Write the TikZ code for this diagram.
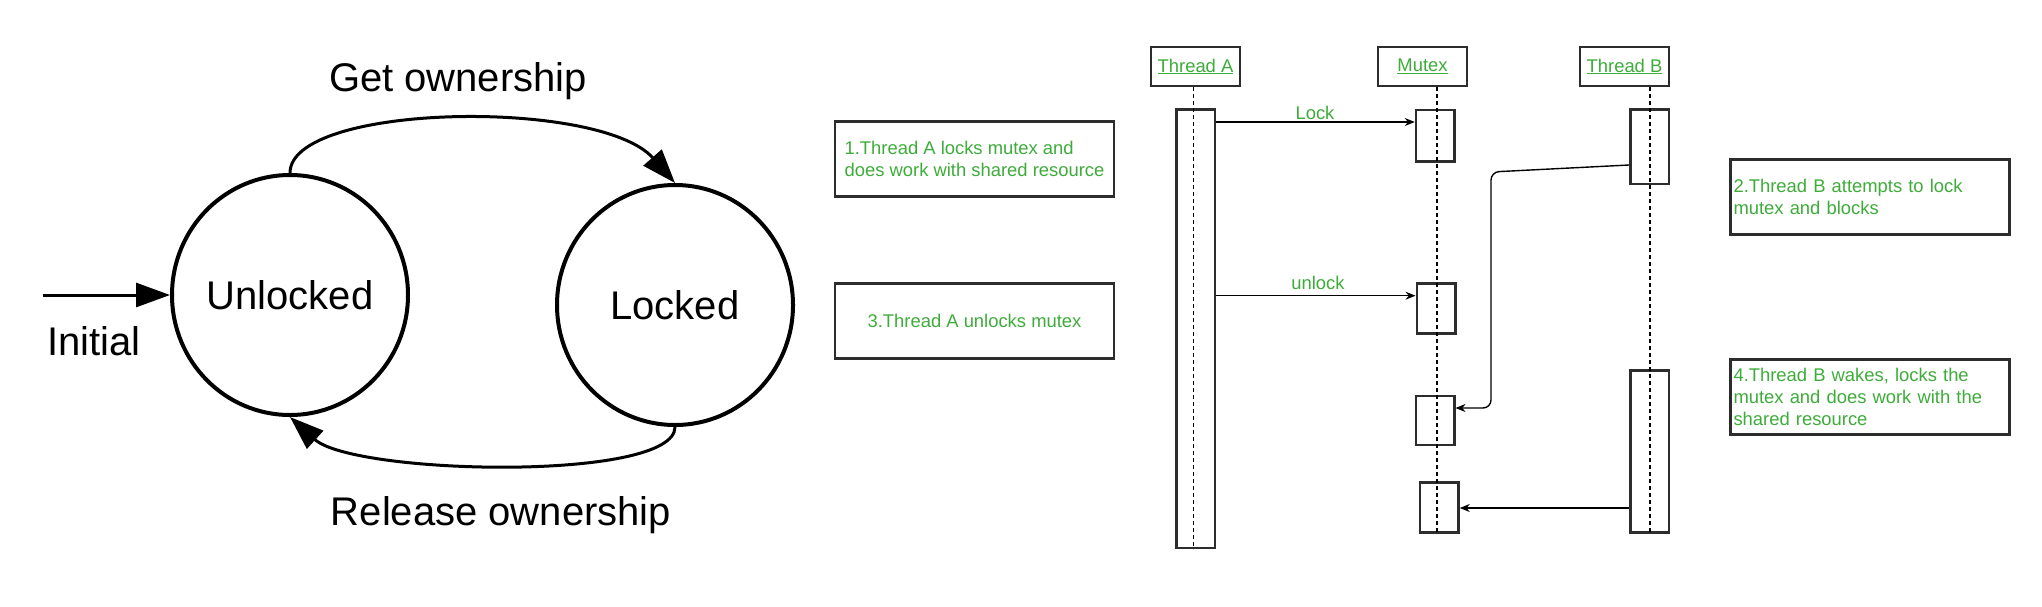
\documentclass[tikz,border=0pt]{standalone}
\usepackage{fontspec}
\setmainfont{Liberation Sans}
\usetikzlibrary{arrows.meta,shapes.geometric}
\definecolor{tgreen}{RGB}{62,172,58}
\definecolor{bord}{RGB}{45,45,45}
\begin{document}
\begin{tikzpicture}[x=1pt,y=-1pt,
  state/.style={draw,ellipse,line width=4pt,inner sep=0pt,font=\fontsize{40}{44}\selectfont},
  big/.style={font=\fontsize{40}{44}\selectfont,inner sep=0pt},
  tarr/.style={line width=3pt,-{Triangle[length=34pt,width=24pt]}},
  hdr/.style={draw=bord,line width=2.5pt,minimum width=89pt,minimum height=39pt,inner sep=0pt,text=tgreen,font=\fontsize{18.4}{22}\selectfont},
  act/.style={draw=bord,line width=2.5pt,minimum width=38.5pt,inner sep=0pt},
  note/.style={draw=bord,line width=2.5pt,minimum width=279pt,minimum height=75pt,text=tgreen,font=\fontsize{18.4}{21.8}\selectfont},
  life/.style={line width=1.2pt,dash pattern=on 4pt off 3pt},
  msg/.style={line width=1.4pt,-{Stealth[length=10pt,width=8pt]}},
  lbl/.style={text=tgreen,font=\fontsize{18.4}{22}\selectfont,inner sep=0pt}
]
\fill[white] (0,0) rectangle (2042,606);
\useasboundingbox (0,0) rectangle (2042,606);

% ---------- state diagram ----------
\node[state,minimum width=236pt,minimum height=240pt] (unl) at (290,295) {Unlocked};
\node[state,minimum width=236pt,minimum height=240pt] (lck) at (675,305) {Locked};
\coordinate (ini) at (43,295);
\draw[tarr] (ini) -- (unl.west);
\node[big] (initl) at (94,341) {Initial};
\node[big] (getl) at (458,81) {Get ownership};
\node[big] (rell) at (501,515) {Release ownership};
\draw[tarr] (unl.north) .. controls +(0,-70) and +(-75,-85) .. (lck.north);
\draw[tarr] (lck.south) .. controls +(0,55) and +(64,58) .. (unl.south);

% ---------- sequence diagram ----------
\node[hdr] (ta) at (1195.5,66.5) {\underline{Thread A}};
\node[hdr] (mx) at (1422.5,66.5) {\underline{Mutex}};
\node[hdr] (tb) at (1624.5,66.5) {\underline{Thread B}};

\node[act,minimum height=438.5pt] (aa) at (1195.5,328.75) {};
\node[act,minimum height=51.7pt] (m1) at (1435.25,135.85) {};
\node[act,minimum height=50pt] (m2) at (1436,308.3) {};
\node[act,minimum height=49pt] (m3) at (1435,420.5) {};
\node[act,minimum height=50pt] (m4) at (1439.25,507.3) {};
\node[act,minimum height=74.7pt] (b1) at (1649.5,146.65) {};
\node[act,minimum height=161.6pt] (b2) at (1649.5,451.5) {};

\draw[life] ([xshift=-2pt]ta.south) -- ([xshift=-2pt]ta.south |- aa.south);
\draw[life] ([xshift=14.5pt]mx.south) -- ([xshift=14.5pt]mx.south |- m4.south);
\draw[life] ([xshift=25.5pt]tb.south) -- ([xshift=25.5pt]tb.south |- b2.south);

\draw[msg] (aa.east |- 0,122) -- (m1.west |- 0,122);
\node[lbl] (lockl) at (1315,112.7) {Lock};
\draw[msg] (aa.east |- 0,295.7) -- (m2.west |- 0,295.7);
\node[lbl] (unlockl) at (1318,283.3) {unlock};
\draw[msg,rounded corners=8pt] (b1.west |- 0,165) -- (1491,172) -- (1491,408) -- (m3.east |- 0,408);
\draw[msg] (b2.west |- 0,508) -- (m4.east |- 0,508);

\node[note,align=left] (n1) at (974.5,159.2)
  {1.Thread A locks mutex and\\does work with shared resource};
\node[note] (n3) at (974.5,320.8) {3.Thread A unlocks mutex};
\node[note,text width=273pt,align=left,inner xsep=3pt] (n2) at (1870,197)
  {2.Thread B attempts to lock\\mutex and blocks};
\node[note,text width=273pt,align=left,inner xsep=3pt] (n4) at (1870,397)
  {4.Thread B wakes, locks the\\mutex and does work with the\\shared resource};
\end{tikzpicture}
\end{document}
